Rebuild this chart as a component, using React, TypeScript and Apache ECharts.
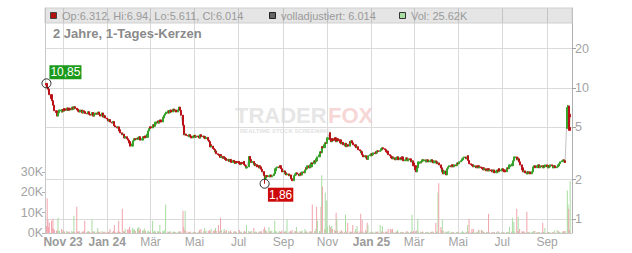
import React, { useEffect, useRef } from "react";
import * as echarts from "echarts";

// Daily closing prices (EUR), oldest first (one per trading day)
const closes: number[] = [
  10.55, 10.1, 9.8, 9.2, 8.9, 8.3, 8.0, 7.4, 7.2, 6.7,
  6.5, 6.1, 6.45, 6.7, 6.8, 6.55, 6.85, 6.65, 6.95, 6.75,
  6.8, 7.05, 6.75, 7.0, 6.8, 6.9, 7.15, 6.9, 7.2, 7.0,
  6.9, 6.8, 6.65, 6.55, 6.8, 6.65, 6.45, 6.7, 6.6, 6.4,
  6.35, 6.45, 6.6, 6.3, 6.2, 6.5, 6.35, 6.1, 6.25, 6.45,
  6.3, 6.45, 6.55, 6.3, 6.1, 6.45, 6.2, 6.0, 6.15, 5.9,
  5.8, 5.7, 5.6, 5.75, 5.5, 5.4, 5.55, 5.2, 5.15, 5.05,
  4.95, 5.05, 4.8, 4.7, 4.55, 4.4, 4.45, 4.25, 4.15, 4.25,
  4.1, 4.0, 3.9, 3.8, 3.6, 3.75, 3.95, 4.0, 4.1, 4.05,
  4.15, 4.1, 4.25, 4.15, 4.0, 4.1, 4.25, 4.15, 4.3, 4.2,
  4.45, 4.7, 4.9, 5.05, 4.95, 5.15, 5.25, 5.1, 5.3, 5.5,
  5.6, 5.4, 5.6, 5.7, 5.5, 5.9, 6.0, 6.2, 6.35, 6.55,
  6.45, 6.7, 6.45, 6.8, 6.55, 6.65, 6.9, 6.7, 6.8, 6.55,
  6.8, 7.0, 7.15, 6.75, 6.2, 5.2, 4.45, 4.4, 4.45, 4.35,
  4.3, 4.25, 4.4, 4.3, 4.15, 4.3, 4.25, 4.35, 4.2, 4.3,
  4.25, 4.3, 4.15, 4.4, 4.25, 4.3, 4.15, 4.25, 4.1, 4.2,
  4.0, 3.9, 3.7, 3.55, 3.6, 3.45, 3.4, 3.25, 3.3, 3.15,
  3.1, 3.05, 3.1, 2.95, 3.0, 2.9, 2.95, 2.85, 2.9, 2.8,
  2.85, 2.75, 2.85, 2.8, 2.7, 2.8, 2.75, 2.65, 2.75, 2.7,
  2.75, 2.65, 2.6, 2.7, 2.65, 2.75, 2.6, 2.55, 2.45, 2.5,
  2.8, 3.0, 2.85, 2.7, 2.75, 2.6, 2.65, 2.55, 2.6, 2.5,
  2.55, 2.45, 2.5, 2.4, 2.3, 2.15, 2.0, 2.05, 2.15, 2.1,
  2.14, 2.1, 2.17, 2.1, 2.14, 2.21, 2.33, 2.42, 2.46, 2.5,
  2.46, 2.55, 2.5, 2.42, 2.29, 2.33, 2.21, 2.25, 2.17, 2.21,
  2.14, 2.17, 2.06, 2.03, 1.96, 2.14, 2.21, 2.17, 2.25, 2.21,
  2.14, 2.21, 2.25, 2.17, 2.29, 2.25, 2.37, 2.46, 2.42, 2.55,
  2.46, 2.59, 2.5, 2.68, 2.64, 2.78, 2.73, 2.88, 2.78, 2.98,
  3.09, 3.26, 3.2, 3.56, 3.5, 3.69, 3.82, 3.78, 4.05, 4.17,
  4.55, 4.02, 3.89, 4.1, 3.96, 4.17, 4.02, 3.89, 4.1, 3.96,
  4.02, 3.82, 3.75, 3.85, 3.69, 3.62, 3.78, 3.56, 3.69, 3.6,
  3.89, 3.82, 3.96, 3.82, 3.69, 3.6, 3.68, 3.5, 3.56, 3.38,
  3.32, 3.2, 3.26, 3.09, 2.98, 3.04, 2.93, 2.95, 2.85, 3.04,
  3.09, 3.04, 3.15, 3.09, 3.2, 3.15, 3.26, 3.2, 3.32, 3.28,
  3.32, 3.44, 3.38, 3.5, 3.44, 3.38, 3.26, 3.3, 3.2, 3.1,
  3.04, 2.93, 2.98, 2.88, 2.93, 2.83, 2.93, 2.88, 2.98, 2.83,
  2.93, 2.88, 2.98, 2.88, 2.78, 2.83, 2.93, 2.83, 2.78, 2.88,
  2.83, 2.73, 2.78, 2.68, 2.55, 2.37, 2.29, 2.46, 2.64, 2.73,
  2.68, 2.73, 2.83, 2.78, 2.83, 2.73, 2.78, 2.83, 2.73, 2.78,
  2.73, 2.83, 2.78, 2.68, 2.78, 2.68, 2.73, 2.64, 2.68, 2.59,
  2.46, 2.29, 2.37, 2.21, 2.33, 2.17, 2.29, 2.42, 2.5, 2.55,
  2.5, 2.59, 2.55, 2.5, 2.59, 2.55, 2.64, 2.68, 2.64, 2.73,
  2.78, 2.83, 2.88, 2.93, 2.98, 2.88, 2.95, 3.04, 2.8, 2.64,
  2.6, 2.55, 2.59, 2.5, 2.55, 2.46, 2.5, 2.55, 2.46, 2.5,
  2.46, 2.42, 2.46, 2.37, 2.42, 2.33, 2.37, 2.42, 2.33, 2.37,
  2.33, 2.29, 2.37, 2.33, 2.25, 2.33, 2.37, 2.29, 2.42, 2.33,
  2.37, 2.42, 2.33, 2.37, 2.29, 2.37, 2.46, 2.42, 2.5, 2.59,
  2.55, 2.64, 2.78, 2.93, 2.98, 2.93, 2.83, 2.88, 2.73, 2.59,
  2.46, 2.37, 2.29, 2.33, 2.25, 2.21, 2.29, 2.25, 2.29, 2.21,
  2.29, 2.42, 2.5, 2.55, 2.46, 2.55, 2.5, 2.59, 2.46, 2.55,
  2.5, 2.46, 2.55, 2.5, 2.59, 2.5, 2.46, 2.55, 2.5, 2.59,
  2.55, 2.46, 2.5, 2.55, 2.46, 2.5, 2.59, 2.55, 2.64, 2.73,
  2.78, 2.83, 2.73, 2.78, 2.7, 7.1, 7.3, 5.0, 4.75, 6.014,
];

// Daily volume in thousands of shares
const volumesK: number[] = [
  3.5, 17, 6.5, 3, 5, 6, 2.5, 7, 2, 1.5,
  1, 1.5, 7.5, 0.8, 1, 2, 0.5, 1.5, 1, 0.6,
  1, 0.5, 0.8, 0.4, 0.6, 1, 0.5, 0.7, 8.5, 0.6,
  13, 0.8, 0.5, 1, 0.6, 0.4, 0.8, 0.5, 1, 6,
  0.5, 0.8, 1, 0.6, 0.5, 6.5, 0.8, 0.4, 1, 0.6,
  0.5, 2.5, 0.8, 0.4, 0.6, 1, 0.5, 0.3, 0.8, 0.5,
  0.6, 0.4, 0.5, 0.8, 2, 0.5, 0.6, 1, 4, 0.5,
  0.8, 0.5, 6, 0.6, 0.5, 12, 0.8, 1, 0.6, 2,
  1.5, 2, 1, 3, 1.5, 2.5, 1, 2, 1.5, 1,
  2.5, 1.8, 3, 1.2, 2, 1, 1.5, 0.8, 2.2, 1,
  0.8, 1.2, 0.6, 0.5, 0.8, 6, 0.8, 0.5, 1.2, 0.6,
  1, 0.6, 0.8, 4, 0.5, 1, 0.6, 1.5, 0.8, 14,
  0.8, 0.5, 0.6, 1, 0.4, 0.6, 0.8, 0.5, 0.6, 0.4,
  0.5, 0.8, 0.6, 1, 0.5, 11, 3, 1.5, 11, 1,
  0.6, 0.4, 0.5, 0.8, 0.3, 0.5, 0.6, 0.4, 0.5, 0.3,
  0.5, 0.8, 1.5, 0.6, 2, 0.5, 1, 2.5, 0.6, 1.2,
  1, 0.8, 1.5, 0.6, 2, 1, 0.8, 1.5, 2.5, 1,
  4, 1, 0.8, 7.5, 1.5, 0.6, 2, 1, 0.8, 1.5,
  1, 0.6, 0.5, 1.2, 0.4, 0.8, 0.5, 1, 0.6, 0.4,
  0.6, 1.5, 0.5, 0.8, 0.4, 0.6, 1, 0.5, 0.8, 4,
  1, 0.6, 0.8, 0.5, 1, 2.5, 0.6, 0.4, 0.8, 0.5,
  0.6, 0.8, 0.5, 1, 0.8, 2, 3, 1.5, 1, 0.8,
  3, 0.8, 1, 0.6, 1.2, 0.5, 6, 1, 0.8, 0.6,
  0.8, 1, 0.5, 0.6, 1.2, 0.8, 0.5, 1, 0.6, 6.5,
  0.6, 0.8, 1, 0.5, 1.5, 0.8, 0.6, 1, 3, 0.8,
  0.6, 1, 0.5, 0.8, 1.2, 0.6, 2, 1, 0.8, 0.5,
  0.8, 0.5, 1, 0.6, 14, 1, 0.8, 2, 13, 6,
  1, 0.8, 13, 28.5, 23, 2, 20, 1.5, 16, 3,
  4, 3, 2, 3.5, 2, 1.5, 1, 10, 7, 1,
  0.8, 0.5, 1.5, 0.6, 0.8, 0.5, 9, 0.8, 0.6, 5,
  0.6, 0.8, 0.5, 0.6, 4, 0.8, 2, 0.6, 3.5, 0.8,
  0.8, 9.5, 0.6, 6.5, 0.8, 0.5, 1.5, 0.6, 5, 4,
  0.6, 0.4, 0.8, 0.5, 0.6, 0.4, 0.8, 0.5, 0.6, 0.8,
  4, 0.5, 0.8, 3.5, 0.6, 0.5, 0.8, 0.6, 0.5, 2,
  2, 1.8, 0.8, 2, 0.6, 0.5, 0.8, 0.6, 1.5, 0.5,
  0.5, 0.3, 0.6, 0.4, 0.5, 0.3, 0.6, 1, 0.4, 0.5,
  0.5, 0.8, 9, 0.6, 1, 0.8, 1.2, 0.6, 7, 0.8,
  0.6, 0.4, 0.5, 0.8, 0.3, 0.5, 0.4, 0.6, 0.3, 0.5,
  0.6, 0.5, 0.8, 0.4, 0.6, 5, 0.8, 0.5, 20, 24.5,
  3, 1.5, 6.5, 1, 0.8, 0.6, 0.5, 0.8, 0.6, 1,
  0.4, 0.6, 0.3, 0.5, 0.4, 0.3, 0.5, 0.4, 0.6, 0.3,
  0.4, 0.3, 1, 0.5, 0.4, 0.6, 0.5, 4, 0.8, 7,
  0.6, 2, 0.5, 2, 0.4, 0.6, 0.5, 0.4, 1.5, 1.2,
  1.5, 1, 1.2, 0.5, 0.4, 0.6, 0.3, 0.5, 9.5, 0.4,
  0.3, 0.5, 0.4, 0.3, 0.5, 0.4, 0.3, 1, 0.4, 0.3,
  0.4, 0.3, 0.5, 0.4, 0.3, 0.5, 0.4, 0.6, 0.5, 3,
  0.6, 7.5, 1, 5.5, 0.8, 12, 1, 8, 0.6, 2,
  0.8, 0.6, 1, 0.5, 0.6, 10.5, 0.5, 0.4, 0.6, 0.4,
  0.5, 0.4, 1, 0.8, 1, 0.5, 0.4, 0.3, 0.5, 0.4,
  0.4, 5, 0.5, 0.4, 2.5, 0.3, 0.5, 0.4, 0.3, 0.5,
  0.3, 0.5, 0.4, 1.2, 0.3, 1.5, 0.4, 1, 0.5, 0.4,
  0.5, 0.8, 1, 0.6, 1, 21, 14, 12, 1.5, 25.62,
];

// Days whose open / high / low differ from the previous close / body (index, value)
const openOverrides: [number, number][] = [[0, 10.85], [515, 4.9], [519, 6.312]];
const highOverrides: [number, number][] = [[0, 10.85], [515, 7.4], [519, 6.94]];
const lowOverrides: [number, number][] = [[216, 1.86], [519, 5.611]];

const lastTradingDay: [number, number, number] = [2025, 9, 3];
const axisStart: [number, number, number] = [2023, 9, 7];
const axisEnd: [number, number, number, number] = [2025, 9, 5, 12];

// [year, monthIndex, label, bold]
const monthTicks: [number, number, string, boolean][] = [
  [2023, 10, "Nov 23", true],
  [2024, 0, "Jan 24", true],
  [2024, 2, "Mär", false],
  [2024, 4, "Mai", false],
  [2024, 6, "Jul", false],
  [2024, 8, "Sep", false],
  [2024, 10, "Nov", false],
  [2025, 0, "Jan 25", true],
  [2025, 2, "Mär", false],
  [2025, 4, "Mai", false],
  [2025, 6, "Jul", false],
  [2025, 8, "Sep", false],
];
const priceTicks: number[] = [1, 2, 5, 10, 20];
const priceRange: [number, number] = [0.782, 40.8];
const volumeTicks: number[] = [0, 10, 20, 30];
const volumeMaxK = 111;

const titleText = "2 Jahre, 1-Tages-Kerzen";
const legendOHLC = "Op:6.312, Hi:6.94, Lo:5.611, Cl:6.014";
const legendAdj = "volladjustiert: 6.014";
const legendVol = "Vol: 25.62K";

const FONT = "'Liberation Sans', Arial, Helvetica, sans-serif";
const UP = "#36a32a";
const DOWN = "#bb1017";
const VOL_UP = "#a9dca2";
const VOL_DOWN = "#f2a3ab";

function tradingDays(count: number, end: [number, number, number]): number[] {
  const out: number[] = [];
  const d = new Date(end[0], end[1], end[2]);
  while (out.length < count) {
    const wd = d.getDay();
    if (wd !== 0 && wd !== 6) out.push(d.getTime());
    d.setDate(d.getDate() - 1);
  }
  return out.reverse();
}

export default function App() {
  const ref = useRef<HTMLDivElement>(null);

  useEffect(() => {
    if (!ref.current) return;
    const chart = echarts.init(ref.current, undefined, { renderer: "svg" });
    const lg = (v: number) => Math.log10(v);
    const dates = tradingDays(closes.length, lastTradingDay);
    const openMap = new Map(openOverrides);
    const highMap = new Map(highOverrides);
    const lowMap = new Map(lowOverrides);

    const opens = closes.map((c, i) => (openMap.has(i) ? (openMap.get(i) as number) : i > 0 ? closes[i - 1] : c));
    const highs = closes.map((c, i) => (highMap.has(i) ? (highMap.get(i) as number) : Math.max(c, opens[i])));
    const lows = closes.map((c, i) => (lowMap.has(i) ? (lowMap.get(i) as number) : Math.min(c, opens[i])));

    const candleData = closes.map((c, i) => [dates[i], lg(opens[i]), lg(c), lg(lows[i]), lg(highs[i])]);
    const lineData = closes.map((c, i) => [dates[i], lg(c)]);
    const volData = volumesK.map((v, i) => {
      const up = i > 0 ? closes[i] >= closes[i - 1] : closes[i] >= opens[i];
      return { value: [dates[i], v], itemStyle: { color: up ? VOL_UP : VOL_DOWN } };
    });

    let hiIdx = 0;
    let loIdx = 0;
    highs.forEach((h, i) => { if (h > highs[hiIdx]) hiIdx = i; });
    lows.forEach((l, i) => { if (l < lows[loIdx]) loIdx = i; });
    const fmt = (v: number) => v.toFixed(2).replace(".", ",");

    const tickTimes = monthTicks.map((m) => new Date(m[0], m[1], 1).getTime());
    const tickLabel = new Map<number, [string, boolean]>();
    monthTicks.forEach((m, i) => tickLabel.set(tickTimes[i], [m[2], m[3]]));

    const priceTickVals = priceTicks.map(lg);

    const option: any = {
      animation: false,
      textStyle: { fontFamily: FONT },
      grid: { left: 45, right: 60, top: 8, bottom: 20 },
      xAxis: {
        type: "value",
        scale: true,
        min: new Date(axisStart[0], axisStart[1], axisStart[2]).getTime(),
        max: new Date(axisEnd[0], axisEnd[1], axisEnd[2], axisEnd[3]).getTime(),
        axisLine: { show: true, onZero: false, lineStyle: { color: "#c8c8c8", width: 1 } },
        axisTick: { show: false, customValues: tickTimes },
        axisLabel: {
          customValues: tickTimes,
          color: "#a3a3a3",
          fontSize: 12,
          fontFamily: FONT,
          margin: 3,
          formatter: (v: number) => {
            let best: [string, boolean] | null = null;
            let bestD = Infinity;
            tickLabel.forEach((lab, t) => {
              const d = Math.abs(t - v);
              if (d < bestD) { bestD = d; best = lab; }
            });
            if (!best || bestD > 86400000) return "";
            const b = best as [string, boolean];
            return b[1] ? "{b|" + b[0] + "}" : b[0];
          },
          rich: { b: { fontWeight: "bold", color: "#9a9a9a", fontSize: 12, fontFamily: FONT } },
        },
        splitLine: { show: true, lineStyle: { color: "#dadada", width: 1 } },
      },
      yAxis: [
        {
          type: "value",
          position: "right",
          min: lg(priceRange[0]),
          max: lg(priceRange[1]),
          axisLine: { show: true, lineStyle: { color: "#b0b0b0" } },
          axisTick: { show: true, customValues: priceTickVals, length: 4, lineStyle: { color: "#a0a0a0" } },
          axisLabel: {
            customValues: priceTickVals,
            formatter: (v: number) => String(Math.round(Math.pow(10, v))),
            color: "#a3a3a3",
            fontSize: 12.5,
            fontFamily: FONT,
            margin: 3,
          },
          splitLine: { show: true, lineStyle: { color: "#dadada", width: 1 } },
        },
        {
          type: "value",
          position: "left",
          min: 0,
          max: volumeMaxK,
          axisLine: { show: true, lineStyle: { color: "#c8c8c8" } },
          axisTick: { show: true, customValues: volumeTicks, length: 3, lineStyle: { color: "#b0b0b0" } },
          axisLabel: {
            customValues: volumeTicks,
            formatter: (v: number) => v + "K",
            color: "#a3a3a3",
            fontSize: 12.5,
            fontFamily: FONT,
            margin: 2,
          },
          splitLine: { show: false },
        },
      ],
      series: [
        {
          type: "bar",
          yAxisIndex: 1,
          data: volData,
          barWidth: 1,
          z: 1,
        },
        {
          type: "line",
          yAxisIndex: 0,
          data: lineData,
          symbol: "none",
          lineStyle: { color: "#b4b4b4", width: 0.8 },
          z: 2,
          markPoint: {
            z: 5,
            data: [
              {
                coord: [dates[hiIdx], lg(highs[hiIdx])],
                symbol: "circle",
                symbolSize: 9,
                itemStyle: { color: "rgba(255,255,255,0)", borderColor: "#222", borderWidth: 1 },
                label: {
                  show: true,
                  formatter: fmt(highs[hiIdx]),
                  position: "inside",
                  offset: [19, -11],
                  backgroundColor: "#1c9a1c",
                  color: "#ffffff",
                  fontSize: 12,
                  fontFamily: FONT,
                  lineHeight: 14,
                  padding: [0, 1, 0, 1],
                },
              },
              {
                coord: [dates[loIdx], lg(lows[loIdx])],
                symbol: "circle",
                symbolSize: 9,
                itemStyle: { color: "rgba(255,255,255,0)", borderColor: "#222", borderWidth: 1 },
                label: {
                  show: true,
                  formatter: fmt(lows[loIdx]),
                  position: "inside",
                  offset: [16, 11],
                  backgroundColor: "#cc0a0a",
                  color: "#ffffff",
                  fontSize: 12,
                  fontFamily: FONT,
                  lineHeight: 14,
                  padding: [0, 1, 0, 1],
                },
              },
            ],
          },
        },
        {
          type: "candlestick",
          yAxisIndex: 0,
          data: candleData,
          encode: { x: 0, y: [1, 2, 3, 4] },
          barWidth: 1.7,
          z: 3,
          itemStyle: { color: UP, color0: DOWN, borderColor: UP, borderColor0: DOWN, borderWidth: 1 },
        },
      ],
      graphic: [
        {
          type: "text", x: 235, y: 115, z: 0, silent: true,
          style: { text: "TRADER", fill: "#e6e6e6", font: "bold 22px " + FONT, textVerticalAlign: "middle" },
        },
        {
          type: "text", x: 328, y: 115, z: 0, silent: true,
          style: { text: "FOX", fill: "#f7d6d6", font: "bold 22px " + FONT, textVerticalAlign: "middle" },
        },
        {
          type: "text", x: 240, y: 131, z: 0, silent: true,
          style: { text: "REALTIME STOCK SCREENING", fill: "#e2e2e2", font: "bold 6px " + FONT, textVerticalAlign: "middle" },
        },
        {
          type: "rect", z: 10, silent: true,
          shape: { x: 45, y: 8, width: 527, height: 15 },
          style: { fill: "rgba(0,0,0,0.1)", stroke: "#cfcfcf", lineWidth: 1 },
        },
        {
          type: "rect", z: 11, silent: true,
          shape: { x: 50.5, y: 12.5, width: 6, height: 6 },
          style: { fill: "#b51010", stroke: "#444", lineWidth: 1 },
        },
        {
          type: "text", x: 62, y: 16, z: 11, silent: true,
          style: { text: legendOHLC, fill: "#9a9a9a", font: "11px " + FONT, textVerticalAlign: "middle" },
        },
        {
          type: "rect", z: 11, silent: true,
          shape: { x: 269.5, y: 12.5, width: 6, height: 6 },
          style: { fill: "#666666", stroke: "#222", lineWidth: 1 },
        },
        {
          type: "text", x: 281, y: 16, z: 11, silent: true,
          style: { text: legendAdj, fill: "#9a9a9a", font: "11px " + FONT, textVerticalAlign: "middle" },
        },
        {
          type: "rect", z: 11, silent: true,
          shape: { x: 399.5, y: 12.5, width: 6, height: 6 },
          style: { fill: VOL_UP, stroke: "#333", lineWidth: 1 },
        },
        {
          type: "text", x: 411, y: 16, z: 11, silent: true,
          style: { text: legendVol, fill: "#9a9a9a", font: "11px " + FONT, textVerticalAlign: "middle" },
        },
        {
          type: "text", x: 53, y: 33, z: 11, silent: true,
          style: { text: titleText, fill: "#8a8a8a", font: "bold 13px " + FONT, textVerticalAlign: "middle" },
        },
      ],
    };

    chart.setOption(option);
    return () => chart.dispose();
  }, []);

  return (
    <div
      ref={ref}
      style={{ position: "absolute", left: 0, top: 0, width: 632, height: 253, background: "#ffffff" }}
    />
  );
}
